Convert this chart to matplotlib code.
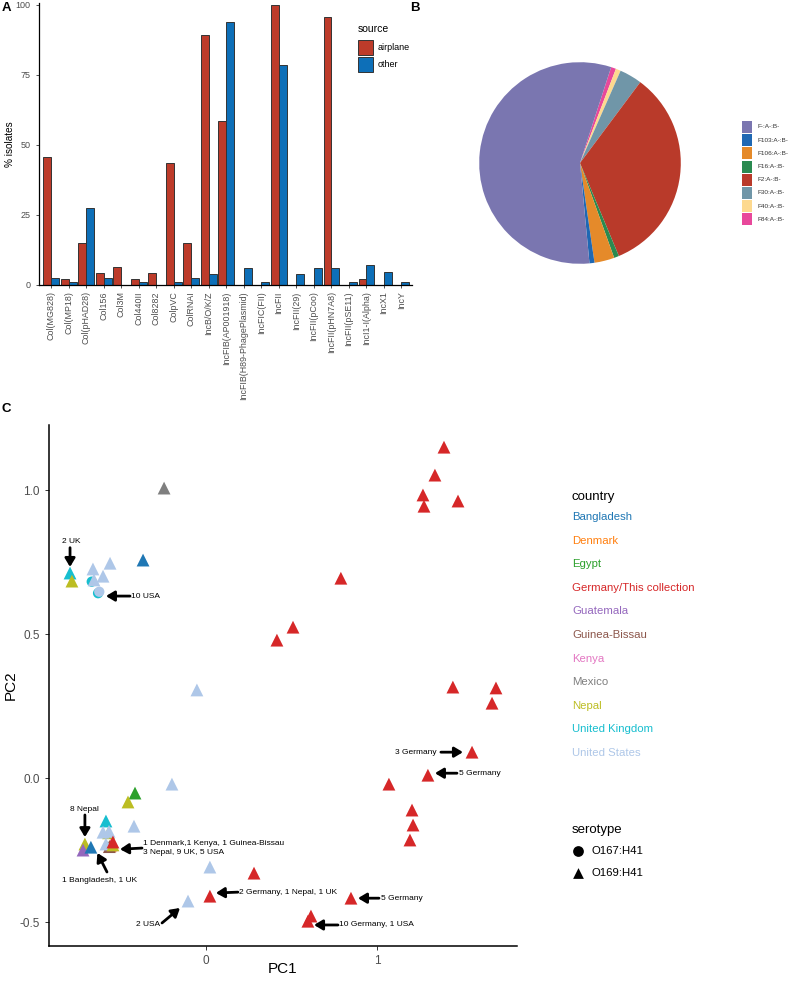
import numpy as np
import matplotlib
matplotlib.use('Agg')
import matplotlib.pyplot as plt
from matplotlib.patches import Rectangle

plt.rcParams['font.family'] = ['Liberation Sans', 'DejaVu Sans']

W, H = 791, 981

# ---- panel A: replicon carriage by source
plasmids = ['Col(MG828)', 'Col(MP18)', 'Col(pHAD28)', 'Col156', 'Col3M', 'Col440II',
            'Col8282', 'ColpVC', 'ColRNAI', 'IncB/O/K/Z', 'IncFIB(AP001918)',
            'IncFIB(H89-PhagePlasmid)', 'IncFIC(FII)', 'IncFII', 'IncFII(29)',
            'IncFII(pCoo)', 'IncFII(pHN7A8)', 'IncFII(pSE11)', 'IncI1-I(Alpha)', 'IncX1', 'IncY']
airplane_pct = [45.8, 2.2, 15.1, 4.3, 6.4, 2.2, 4.3, 43.5, 15.1, 89.3, 58.7,
                0, 0, 100, 0, 0, 95.6, 0, 2.2, 0, 0]
other_pct = [2.5, 1.2, 27.4, 2.5, 0, 1.2, 0, 1.2, 2.5, 3.8, 94.0,
             6.0, 1.2, 78.6, 3.8, 6.0, 6.0, 1.2, 7.2, 4.8, 1.2]
source_names = ['airplane', 'other']
source_colors = ['#BD3B2A', '#0D6FB8']

# ---- panel B: pMLST types
pmlst = ['F-:A-:B-', 'F103:A-:B-', 'F106:A-:B-', 'F16:A-:B-', 'F2:A-:B-',
         'F30:A-:B-', 'F40:A-:B-', 'F84:A-:B-']
pmlst_share = [56.5, 0.8, 3.2, 0.8, 33.5, 3.6, 0.8, 0.8]
pmlst_colors = ['#7A76B0', '#1F68B3', '#E58A2A', '#2A8A50', '#B93A2A',
                '#7096A8', '#FDD98F', '#E8489B']

# ---- panel C: PCA
countries = ['Bangladesh', 'Denmark', 'Egypt', 'Germany/This collection', 'Guatemala',
             'Guinea-Bissau', 'Kenya', 'Mexico', 'Nepal', 'United Kingdom', 'United States']
country_colors = ['#1F77B4', '#FF7F0E', '#2CA02C', '#D62728', '#9467BD', '#8C564B',
                  '#E377C2', '#7F7F7F', '#BCBD22', '#17BECF', '#AEC7E8']
serotypes = ['O167:H41', 'O169:H41']

pc1 = [1.392, 1.339, 1.269, 1.275, 1.474, 1.444, 1.696, 1.673, 1.556, 1.298, 1.070,
       1.205, 1.211, 1.193, 0.789, 0.509, 0.415, 0.848, 0.614, 0.596, 0.281, 0.023,
       -0.795, -0.784, -0.661, -0.561, -0.668, -0.655, -0.602, -0.368, -0.245, -0.053,
       -0.631, -0.624,
       -0.560, -0.555, -0.565, -0.199, -0.415, -0.456, -0.585, -0.421, -0.570, -0.602,
       -0.567, -0.708, -0.719, -0.673, -0.585, -0.544, -0.544, 0.023, -0.105]
pc2 = [1.149, 1.052, 0.983, 0.944, 0.962, 0.316, 0.313, 0.260, 0.090, 0.010, -0.021,
       -0.111, -0.163, -0.215, 0.694, 0.524, 0.479, -0.417, -0.479, -0.497, -0.330, -0.410,
       0.712, 0.684, 0.726, 0.746, 0.682, 0.688, 0.701, 0.757, 1.007, 0.306,
       0.642, 0.647,
       -0.235, -0.232, -0.238, -0.021, -0.052, -0.083, -0.149, -0.167, -0.190, -0.188,
       -0.185, -0.229, -0.250, -0.240, -0.229, -0.232, -0.222, -0.309, -0.427]
pc_country = (['Germany/This collection'] * 22 +
              ['United Kingdom', 'Nepal', 'United States', 'United States', 'United Kingdom',
               'United States', 'United States', 'Bangladesh', 'Mexico', 'United States',
               'United Kingdom', 'United States',
               'Denmark', 'Kenya', 'Guinea-Bissau', 'United States', 'Egypt', 'Nepal',
               'United Kingdom', 'United States', 'Nepal', 'United States', 'United States',
               'Nepal', 'Guatemala', 'Bangladesh', 'United States', 'Nepal',
               'Germany/This collection', 'United States', 'United States'])
pc_serotype = (['O169:H41'] * 26 + ['O167:H41'] + ['O169:H41'] * 5 + ['O167:H41'] * 2 +
               ['O169:H41'] * 19)


def rect(l, t, r, b):
    return [l / W, 1 - b / H, (r - l) / W, (b - t) / H]


fig = plt.figure(figsize=(W / 100, H / 100), dpi=100)

# ================= A
ax = fig.add_axes(rect(39, 3, 412, 285))
x = np.arange(len(plasmids))
bw = 0.45
ax.bar(x - bw / 2, airplane_pct, bw, color=source_colors[0], edgecolor='#333333', lw=0.7)
ax.bar(x + bw / 2, other_pct, bw, color=source_colors[1], edgecolor='#333333', lw=0.7)
ax.set_xlim(-0.7, 20.6)
ax.set_ylim(0, 100.7)
ax.set_yticks([0, 25, 50, 75, 100])
ax.set_xticks(x)
ax.set_xticklabels(plasmids, rotation=90, fontsize=6.4, color='#4D4D4D')
ax.tick_params(axis='y', labelsize=6.5, labelcolor='#4D4D4D', color='#333333', length=2.5, width=0.6)
ax.tick_params(axis='x', color='#333333', length=2.5, width=0.6, pad=2)
ax.set_ylabel('% isolates', fontsize=7.2)
ax.yaxis.set_label_coords(-0.065, 0.5)
for s in ['top', 'right']:
    ax.spines[s].set_visible(False)
for s in ['left', 'bottom']:
    ax.spines[s].set_linewidth(0.9)

# ================= B
cx, cy, r = 580, 163, 126
axb = fig.add_axes(rect(cx - r, cy - r, cx + r, cy + r))
axb.pie(pmlst_share[::-1], colors=pmlst_colors[::-1], startangle=72, counterclock=False,
        wedgeprops=dict(linewidth=0))
axb.set_aspect('equal')

# ================= C
axc = fig.add_axes(rect(49, 425, 517, 946))
markers = {'O167:H41': 'o', 'O169:H41': '^'}
cmap = dict(zip(countries, country_colors))
pc1a, pc2a = np.array(pc1), np.array(pc2)
for sero in ['O167:H41', 'O169:H41']:
    m = np.array([s == sero for s in pc_serotype])
    cols = [cmap[c] for c, k in zip(pc_country, m) if k]
    axc.scatter(pc1a[m], pc2a[m], c=cols, marker=markers[sero],
                s=85 if sero == 'O169:H41' else 55, linewidths=0)
axc.set_xlim(-0.918, 1.819)
axc.set_ylim(-0.583, 1.226)
axc.set_xticks([0, 1])
axc.set_xticklabels(['0', '1'])
axc.set_yticks([-0.5, 0, 0.5, 1.0])
axc.set_yticklabels(['-0.5', '0.0', '0.5', '1.0'])
axc.tick_params(labelsize=8.5, labelcolor='#4D4D4D', color='#333333', length=3, width=0.7)
axc.set_xlabel('PC1', fontsize=11)
axc.set_ylabel('PC2', fontsize=11)
axc.xaxis.set_label_coords(0.5, -0.03)
axc.yaxis.set_label_coords(-0.067, 0.5)
for s in ['top', 'right']:
    axc.spines[s].set_visible(False)
for s in ['left', 'bottom']:
    axc.spines[s].set_linewidth(1.1)

notes = [
    ('2 UK', (-0.789, 0.823), 'center', (-0.795, 0.800), (-0.795, 0.733)),
    ('10 USA', (-0.437, 0.632), 'left', (-0.444, 0.632), (-0.585, 0.632)),
    ('8 Nepal', (-0.708, -0.108), 'center', (-0.708, -0.128), (-0.708, -0.205)),
    ('1 Bangladesh, 1 UK', (-0.620, -0.354), 'center', (-0.579, -0.326), (-0.635, -0.260)),
    ('1 Denmark,1 Kenya, 1 Guinea-Bissau\n3 Nepal, 9 UK, 5 USA', (-0.368, -0.243), 'left',
     (-0.374, -0.243), (-0.503, -0.247)),
    ('2 Germany, 1 Nepal, 1 UK', (0.193, -0.396), 'left', (0.187, -0.396), (0.058, -0.399)),
    ('2 USA', (-0.269, -0.507), 'right', (-0.257, -0.503), (-0.152, -0.451)),
    ('10 Germany, 1 USA', (0.778, -0.510), 'left', (0.772, -0.510), (0.632, -0.510)),
    ('5 Germany', (1.023, -0.417), 'left', (1.012, -0.417), (0.889, -0.417)),
    ('3 Germany', (1.351, 0.090), 'right', (1.374, 0.090), (1.503, 0.090)),
    ('5 Germany', (1.480, 0.017), 'left', (1.468, 0.017), (1.339, 0.017)),
]
for txt, pos, ha, tail, head in notes:
    axc.text(pos[0], pos[1], txt, ha=ha, va='center', fontsize=6.0, linespacing=1.3)
    axc.annotate('', xy=head, xytext=tail,
                 arrowprops=dict(arrowstyle='-|>,head_length=0.5,head_width=0.3',
                                 mutation_scale=10, lw=2, color='black',
                                 shrinkA=0, shrinkB=0))

# ================= legends / panel letters (pixel overlay)
ov = fig.add_axes([0, 0, 1, 1])
ov.set_xlim(0, W)
ov.set_ylim(H, 0)
ov.axis('off')
ov.patch.set_alpha(0)

ov.text(2, 8, 'A', fontsize=9.5, fontweight='bold', va='center')
ov.text(410, 8, 'B', fontsize=9.5, fontweight='bold', va='center')
ov.text(2, 409, 'C', fontsize=9.5, fontweight='bold', va='center')

# source legend
ov.text(358, 29, 'source', fontsize=7.5, va='center')
for i, (nm, col) in enumerate(zip(source_names, source_colors)):
    y0 = 40 + 17 * i
    ov.add_patch(Rectangle((358, y0), 15, 15, facecolor=col, edgecolor='#333333', lw=0.7))
    ov.text(378, y0 + 7.5, nm, fontsize=6.5, va='center')

# pMLST legend
for i, (nm, col) in enumerate(zip(pmlst, pmlst_colors)):
    y0 = 127 + 13.2 * i
    ov.add_patch(Rectangle((742, y0 - 6), 10, 12, facecolor=col, edgecolor='none'))
    ov.text(757, y0, nm, fontsize=4.6, va='center', color='#333333')

# country legend
ov.text(572, 497, 'country', fontsize=9.5, va='center')
for i, (nm, col) in enumerate(zip(countries, country_colors)):
    ov.text(572, 517 + 23.6 * i, nm, fontsize=8.2, va='center', color=col)

# serotype legend
ov.text(572, 830, 'serotype', fontsize=9.5, va='center')
for i, sero in enumerate(serotypes):
    y0 = 851 + 22 * i
    ov.scatter([578], [y0], marker=markers[sero], s=60, color='black', linewidths=0)
    ov.text(592, y0, sero, fontsize=8.2, va='center')

fig.savefig('out.png', dpi=100)
